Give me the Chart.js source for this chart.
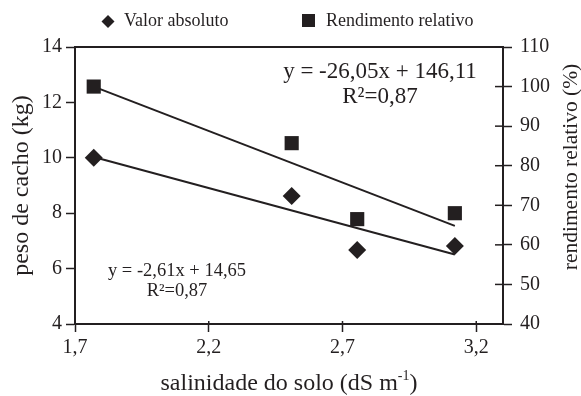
<!DOCTYPE html>
<html><head><meta charset="utf-8">
<script src="https://cdn.jsdelivr.net/npm/chart.js@4/dist/chart.umd.min.js"></script>
<style>html,body{margin:0;padding:0;background:#fff;overflow:hidden}canvas{display:block}</style>
</head><body>
<canvas id="c" width="581" height="396"></canvas>
<script>
// ---- data ----
const salinity = [1.77, 2.51, 2.755, 3.12];
const valorAbsoluto = [10.0, 8.62, 6.67, 6.82];
const rendimentoRelativo = [100.0, 85.7, 66.5, 68.0];
const trendX = [1.77, 3.12];
const trendValor = [10.03, 6.51];
const trendRendimento = [100.0, 64.8];
const xTicks = [1.7, 2.2, 2.7, 3.2];
const yLeftTicks = [4, 6, 8, 10, 12, 14];
const yRightTicks = [40, 50, 60, 70, 80, 90, 100, 110];
const legendLabels = ['Valor absoluto', 'Rendimento relativo'];
const eqValor = ['y = -2,61x + 14,65', 'R\u00B2=0,87'];
const eqRendimento = ['y = -26,05x + 146,11', 'R\u00B2=0,87'];
const titleX = ['salinidade do solo (dS m', '-1', ')'];
const titleYLeft = 'peso de cacho (kg)';
const titleYRight = 'rendimento relativo (%)';

const INK = '#231f20';
const FONT = "'Liberation Serif', 'Times New Roman', serif";
Chart.defaults.font.family = FONT;
Chart.defaults.color = INK;

const pts = (xs, ys) => xs.map((x, i) => ({x: x, y: ys[i]}));
const comma = v => Number(v).toFixed(1).replace('.', ',');

const decor = {
  id: 'decor',
  afterDraw(chart) {
    const {ctx, chartArea: a, scales} = chart;
    ctx.save();
    ctx.strokeStyle = INK; ctx.fillStyle = INK;
    // top frame line
    ctx.lineWidth = 2;
    ctx.beginPath(); ctx.moveTo(a.left - 1, a.top); ctx.lineTo(a.right + 1, a.top); ctx.stroke();
    // inner tick parts
    ctx.lineWidth = 1.5;
    yRightTicks.forEach(v => {
      const y = scales.y1.getPixelForValue(v);
      ctx.beginPath(); ctx.moveTo(a.right - 8, y); ctx.lineTo(a.right, y); ctx.stroke();
    });
    xTicks.forEach(v => {
      const x = scales.x.getPixelForValue(v);
      ctx.beginPath(); ctx.moveTo(x, a.bottom - 3); ctx.lineTo(x, a.bottom); ctx.stroke();
    });
    // legend
    ctx.font = '18px ' + FONT;
    ctx.textBaseline = 'middle'; ctx.textAlign = 'left';
    ctx.beginPath();
    ctx.moveTo(108, 15); ctx.lineTo(114.5, 21.5); ctx.lineTo(108, 28); ctx.lineTo(101.5, 21.5); ctx.closePath(); ctx.fill();
    ctx.fillText(legendLabels[0], 124, 21.5);
    ctx.fillRect(302, 14, 13, 13);
    ctx.fillText(legendLabels[1], 326, 21.5);
    // equations
    ctx.textAlign = 'center';
    ctx.font = '23px ' + FONT;
    ctx.fillText(eqRendimento[0], 380, 72);
    ctx.fillText(eqRendimento[1], 380, 97);
    ctx.font = '18.5px ' + FONT;
    ctx.fillText(eqValor[0], 177, 271);
    ctx.fillText(eqValor[1], 177, 291);
    // right axis title (reads bottom to top)
    ctx.font = '21.5px ' + FONT;
    ctx.save();
    ctx.translate(571, 167);
    ctx.rotate(-Math.PI / 2);
    ctx.fillText(titleYRight, 0, 0);
    ctx.restore();
    // x axis title with superscript
    ctx.textAlign = 'left'; ctx.textBaseline = 'alphabetic';
    const f1 = '24px ' + FONT, f2 = '14px ' + FONT;
    ctx.font = f1; const w1 = ctx.measureText(titleX[0]).width;
    const w3 = ctx.measureText(titleX[2]).width;
    ctx.font = f2; const w2 = ctx.measureText(titleX[1]).width;
    let x0 = 289 - (w1 + w2 + w3) / 2;
    const base = 390;
    ctx.font = f1; ctx.fillText(titleX[0], x0, base);
    ctx.font = f2; ctx.fillText(titleX[1], x0 + w1, base - 10);
    ctx.font = f1; ctx.fillText(titleX[2], x0 + w1 + w2, base);
    ctx.restore();
  }
};

new Chart(document.getElementById('c'), {
  type: 'scatter',
  data: {
    datasets: [
      {label: 'trend valor', type: 'line', data: pts(trendX, trendValor), yAxisID: 'y',
        borderColor: INK, borderWidth: 2, pointRadius: 0, fill: false, order: 2},
      {label: 'trend rendimento', type: 'line', data: pts(trendX, trendRendimento), yAxisID: 'y1',
        borderColor: INK, borderWidth: 2, pointRadius: 0, fill: false, order: 2},
      {label: legendLabels[0], data: pts(salinity, valorAbsoluto), yAxisID: 'y',
        pointStyle: 'rectRot', pointRadius: 9, backgroundColor: INK, borderColor: INK, borderWidth: 0, order: 1},
      {label: legendLabels[1], data: pts(salinity, rendimentoRelativo), yAxisID: 'y1',
        pointStyle: 'rect', pointRadius: 10, backgroundColor: INK, borderColor: INK, borderWidth: 0, order: 1}
    ]
  },
  options: {
    responsive: false, animation: false,
    layout: {padding: {top: 47, left: 0, right: 0, bottom: 0}},
    plugins: {legend: {display: false}, tooltip: {enabled: false}},
    scales: {
      x: {
        type: 'linear', position: 'bottom', min: 1.7, max: 3.3,
        afterBuildTicks: s => { s.ticks = xTicks.map(v => ({value: v})); },
        afterFit: s => { s.height = 72; },
        ticks: {callback: comma, font: {size: 20}, padding: 4, color: INK, maxRotation: 0},
        grid: {drawOnChartArea: false, drawTicks: true, tickLength: 8, tickWidth: 1.5, tickColor: INK},
        border: {display: true, width: 2, color: INK}
      },
      y: {
        type: 'linear', position: 'left', min: 4, max: 14,
        afterBuildTicks: s => { s.ticks = yLeftTicks.map(v => ({value: v})); },
        afterFit: s => { s.width = 75; },
        ticks: {font: {size: 20}, padding: 4, color: INK},
        grid: {drawOnChartArea: false, drawTicks: true, tickLength: 9, tickWidth: 1.5, tickColor: INK},
        border: {display: true, width: 2, color: INK},
        title: {display: true, text: titleYLeft, font: {size: 24, lineHeight: 1}, color: INK, padding: {top: 10, bottom: 0}}
      },
      y1: {
        type: 'linear', position: 'right', min: 40, max: 110,
        afterBuildTicks: s => { s.ticks = yRightTicks.map(v => ({value: v})); },
        afterFit: s => { s.width = 78; },
        ticks: {font: {size: 20}, padding: 8, color: INK},
        grid: {drawOnChartArea: false, drawTicks: true, tickLength: 9, tickWidth: 1.5, tickColor: INK},
        border: {display: true, width: 2, color: INK}
      }
    }
  },
  plugins: [decor]
});
</script>
</body></html>
